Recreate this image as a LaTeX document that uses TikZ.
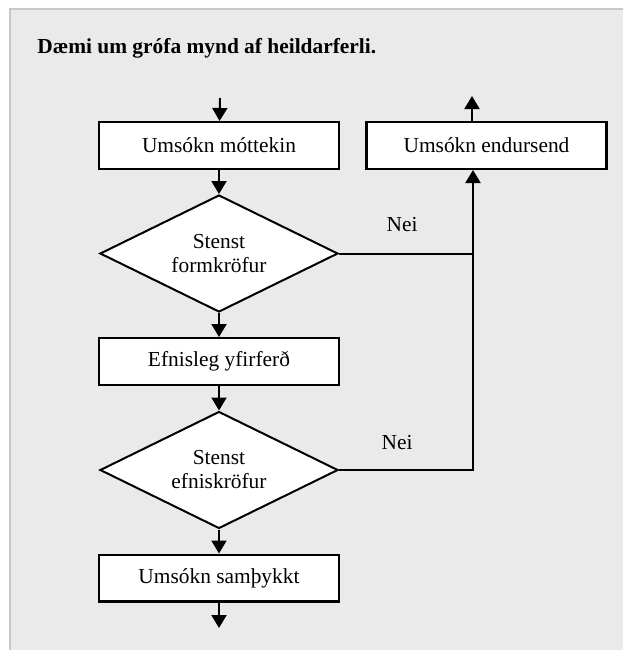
\documentclass[tikz,border=0pt]{standalone}
\usepackage{fontspec}
\setmainfont{Liberation Serif}
\usetikzlibrary{shapes.geometric,arrows.meta}

\definecolor{panel}{HTML}{EAEAEA}
\definecolor{rim}{HTML}{C8C8C8}

\begin{document}
\begin{tikzpicture}[x=0.5pt,y=-0.5pt,
    every node/.style={font=\fontsize{10.7}{12}\selectfont},
    box/.style={draw,line width=1.2pt,fill=white,inner sep=0pt,
                minimum width=120pt,minimum height=23.3pt},
    test/.style={draw,diamond,aspect=2,line width=1pt,fill=white,inner sep=0pt,
                 align=center,minimum width=119pt,minimum height=58.5pt},
    flow/.style={line width=1pt,-{Triangle[width=7.5pt,length=6.5pt]}}]
    %% Grey panel behind the chart.
    \useasboundingbox (0,0) rectangle (623,650);
    \fill[panel] (10,9) rectangle (623,650);
    \draw[rim,line width=1pt] (10,650) -- (10,9) -- (623,9);

    % Title.
    \node[anchor=base west,inner sep=0pt,
          font=\fontsize{10.7}{12}\selectfont\bfseries]
        (title) at (37,53) {Dæmi um grófa mynd af heildarferli.};

    % Main column and the side box.
    \node[box]  (recv)    at (219,145.5) {Umsókn móttekin};
    \node[box]  (resend)  at (486.5,145.5) {Umsókn endursend};
    \node[test] (form)    at (219,253.5) {Stenst\\formkröfur};
    \node[box]  (review)  at (219,361.5) {Efnisleg yfirferð};
    \node[test] (content) at (219,470)   {Stenst\\efniskröfur};
    \node[box]  (ok)      at (219,578)   {Umsókn samþykkt};

    % Loose ends and bends.
    \coordinate (in)     at (220,98);
    \coordinate (out)    at (219,628);
    \coordinate (back)   at (472,96);
    \coordinate (join)   at (473,253.5);
    \coordinate (corner) at (473,470);

    % Arrows down the column.
    \foreach \from/\to in {in/recv,recv/form,form/review,review/content,content/ok,ok/out} {
        \draw[flow] (\from) -- (\to);
    }

    % The "no" branches back to the side box.
    \draw[line width=1pt] (form.east) -- (join);
    \draw[flow] (content.east) -- (corner) -- (corner |- resend.south);
    \draw[flow] (resend.north -| back) -- (back);
    \node (no1) at (402,225) {Nei};
    \node (no2) at (397,443) {Nei};
\end{tikzpicture}
\end{document}
